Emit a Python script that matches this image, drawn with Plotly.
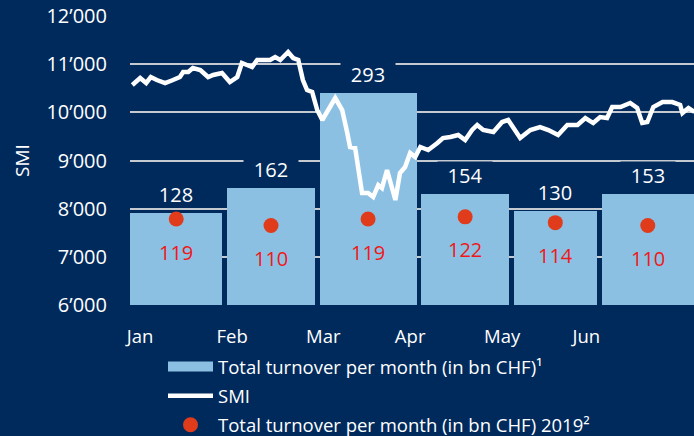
import numpy as np
import plotly.graph_objects as go

# ---------------- data ----------------
months = ["Jan", "Feb", "Mar", "Apr", "May", "Jun"]
turnover_2020 = [128, 162, 293, 154, 130, 153]
turnover_2019 = [119, 110, 119, 122, 114, 110]
trading_days = [21, 20, 22, 20, 19, 21]

smi_day = [0, 1.7, 3.0, 4.0, 5.3, 7.1, 8.8, 10.3, 11.0, 12.1, 13.1, 14.7, 16.4, 17.5, 19.4,
           21.1, 22.7, 23.7, 24.8, 25.9, 27.0, 28.3, 29.8, 30.9, 32.0, 33.7, 34.8, 35.9, 36.9,
           37.8, 38.9, 40.0, 41.1, 43.9, 45.4, 46.5, 47.1, 48.2, 49.7, 51.0, 52.1, 53.2, 54.0,
           55.1, 56.9, 57.9, 59.0, 60.1, 61.2, 62.3, 64.0, 66.0, 67.2, 68.8, 70.5, 72.0, 73.5,
           74.6, 75.9, 78.1, 80.0, 81.3, 82.4, 83.9, 86.1, 88.2, 90.0, 92.1, 94.1, 96.3, 98.0,
           99.7, 101.2, 102.7, 103.8, 105.6, 107.7, 109.2, 110.3, 111.4, 112.7, 114.7, 116.8,
           118.5, 119.0, 120.3, 121.6]
smi_value = [10567, 10713, 10609, 10733, 10671, 10609, 10671, 10733, 10837, 10837, 10920, 10879,
             10733, 10775, 10816, 10629, 10733, 11024, 10982, 10941, 11086, 11086, 11086, 11148,
             11086, 11252, 11128, 11086, 10671, 10463, 10422, 10048, 9841, 10297, 10048, 9571,
             9280, 9259, 8325, 8325, 8242, 8491, 8429, 8803, 8180, 8740, 8865, 9156, 9072, 9280,
             9218, 9363, 9467, 9488, 9529, 9425, 9633, 9737, 9633, 9591, 9799, 9841, 9675, 9467,
             9633, 9695, 9633, 9529, 9737, 9737, 9882, 9778, 9903, 9882, 10110, 10110, 10194,
             10090, 9778, 9799, 10110, 10214, 10214, 10152, 9986, 10090, 10007]

smi_ticks = [6000, 7000, 8000, 9000, 10000, 11000, 12000]

# ---------------- styling ----------------
NAVY = "#002a5c"
BAR = "#8bc0e3"
DOT = "#e03c1c"
RED_TXT = "#f01818"
GRID = "#c5c9d0"
FONT = "Open Sans"

starts = np.concatenate([[0], np.cumsum(trading_days)[:-1]])
bar_width = np.array(trading_days) - 1
bar_center = starts - 0.5 + bar_width / 2.0
xtick_pos = [1.66, 21.6, 41.3, 60.1, 80.0, 98.2]

name_bar = "Total turnover per month (in bn CHF)¹"

fig = go.Figure()

fig.add_trace(go.Bar(
    x=bar_center, y=turnover_2020, width=bar_width,
    marker=dict(color=BAR, line=dict(width=0)),
    name=name_bar, showlegend=False, legendgroup="a",
    yaxis="y", xaxis="x",
))
# legend proxy for the bars (wide swatch)
fig.add_trace(go.Scatter(
    x=[None], y=[None], mode="lines",
    line=dict(color=BAR, width=14),
    name=name_bar, legendgroup="a", yaxis="y", xaxis="x",
))
fig.add_trace(go.Scatter(
    x=smi_day, y=smi_value, mode="lines",
    line=dict(color="white", width=4.5),
    name="SMI", legendgroup="b", yaxis="y2", xaxis="x",
))
fig.add_trace(go.Scatter(
    x=bar_center, y=turnover_2019, mode="markers",
    marker=dict(color=DOT, size=15),
    name="Total turnover per month (in bn CHF) 2019²", legendgroup="c",
    yaxis="y", xaxis="x",
))

annotations = []
for xc, v in zip(bar_center, turnover_2020):
    annotations.append(dict(
        x=xc, y=v, xref="x", yref="y", text=str(v), showarrow=False,
        yanchor="bottom", yshift=5, bgcolor=NAVY, width=54, height=26,
        borderpad=0, font=dict(color="white", size=20, family=FONT),
    ))
for xc, v in zip(bar_center, turnover_2019):
    annotations.append(dict(
        x=xc, y=v, xref="x", yref="y", text=str(v), showarrow=False,
        yanchor="middle", yshift=-33,
        font=dict(color=RED_TXT, size=20, family=FONT),
    ))

fig.update_layout(
    width=694, height=436,
    margin=dict(l=130, r=0, t=16, b=131, autoexpand=False),
    paper_bgcolor=NAVY, plot_bgcolor=NAVY,
    font=dict(family=FONT, color="white", size=19),
    bargap=0,
    showlegend=True,
    legend=dict(
        orientation="v", x=(163 - 130) / 564, y=-0.149, xanchor="left", yanchor="top",
        bgcolor="rgba(0,0,0,0)", font=dict(size=18.5, color="white", family=FONT),
        itemwidth=45, traceorder="grouped", tracegroupgap=2,
    ),
    xaxis=dict(
        range=[-0.5, 121.5], showgrid=False, zeroline=False, showline=False,
        tickmode="array", tickvals=xtick_pos, ticktext=months, ticks="",
        ticklabelstandoff=18, tickfont=dict(size=18.5, color="white", family=FONT),
    ),
    yaxis=dict(
        range=[0, 400], visible=False, showgrid=False, zeroline=False,
    ),
    yaxis2=dict(
        range=[6000, 12000], overlaying="y", side="left", anchor="x",
        showgrid=True, gridcolor=GRID, gridwidth=1.5, zeroline=False, showline=False,
        tickmode="array", tickvals=smi_ticks,
        ticktext=[f"{t:,}".replace(",", "’") for t in smi_ticks],
        ticks="", ticklabelstandoff=22,
        tickfont=dict(size=20, color="white", family=FONT),
        title=dict(text="SMI", standoff=11, font=dict(size=19, color="white", family=FONT)),
    ),
    annotations=annotations,
)

fig.write_html("out.html", config={"displayModeBar": False},
               post_script="document.body.style.margin='0px';")
